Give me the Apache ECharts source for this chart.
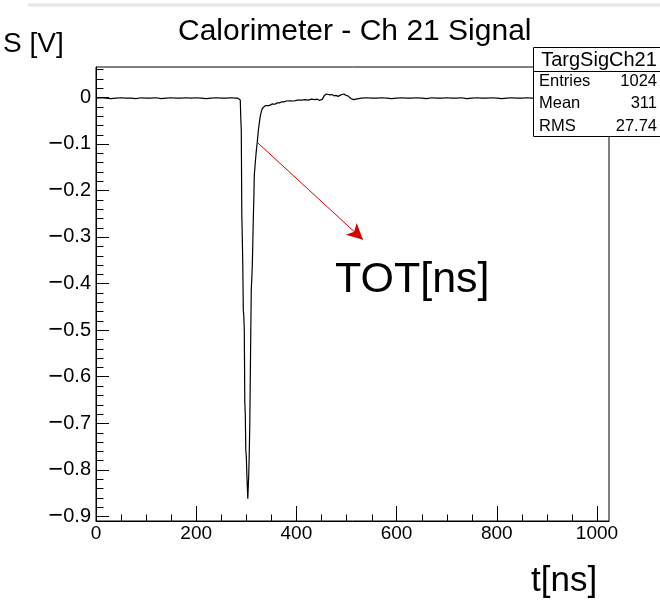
<!DOCTYPE html>
<html>
<head>
<meta charset="utf-8">
<script src="https://cdn.jsdelivr.net/npm/echarts@6/dist/echarts.min.js"></script>
<style>
  html, body { margin: 0; padding: 0; background: #fff; }
  #chart { width: 660px; height: 602px; }
</style>
</head>
<body>
<div id="chart"></div>
<script>
// Sampled waveform of calorimeter channel 21: time [ns] and signal [V]
const timeNs = [
  0, 10, 20, 30, 40, 50, 60, 70, 80, 90, 100, 110, 120, 130, 140, 150, 160, 170, 180, 190,
  200, 210, 220, 230, 240, 250, 260, 270, 278, 283, 285, 288, 289, 290, 291, 292, 293, 294,
  295, 296, 297, 298, 299, 300, 301, 302, 303, 304, 305, 306, 307, 308, 309, 310, 311, 312,
  313, 314, 315, 316, 318, 320, 322, 324, 326, 328, 330, 332, 335, 338, 341, 344, 348, 352,
  357, 362, 366, 370, 375, 380, 388, 395, 402, 410, 417, 424, 430, 437, 442, 446, 449, 452,
  456, 460, 463, 467, 471, 475, 479, 483, 487, 491, 495, 499, 503, 507, 511, 515, 519, 524,
  530, 540, 550, 560, 570, 580, 590, 600, 610, 620, 630, 640, 650, 660, 670, 680, 690, 700,
  710, 720, 730, 740, 750, 760, 770, 780, 790, 800, 810, 820, 830, 840, 850, 860, 870, 880,
  890, 900, 910, 920, 930, 940, 950, 960, 970, 980, 990, 1000, 1010, 1023
];
const signalV = [
  -0.002, -0.001, -0.002, -0.003, -0.002, -0.001, -0.002, -0.002, -0.003, -0.001, -0.002, -0.002, -0.001, -0.003, -0.002, -0.001, -0.002, -0.002, -0.001, -0.002,
  -0.001, -0.002, -0.003, -0.002, -0.001, -0.002, -0.002, -0.001, -0.002, -0.002, -0.005, -0.006, -0.045, -0.070, -0.250, -0.300, -0.360, -0.457,
  -0.470, -0.500, -0.654, -0.680, -0.758, -0.770, -0.807, -0.835, -0.862, -0.862, -0.807, -0.760, -0.700, -0.600, -0.500, -0.410, -0.390, -0.360,
  -0.313, -0.260, -0.220, -0.167, -0.140, -0.115, -0.095, -0.072, -0.055, -0.040, -0.031, -0.024, -0.021, -0.018, -0.020, -0.018, -0.017, -0.014,
  -0.015, -0.012, -0.012, -0.010, -0.010, -0.008, -0.0075, -0.008, -0.006, -0.006, -0.005, -0.006, -0.004, -0.005, -0.004, -0.007, -0.009, -0.004,
  0.004, 0.007, 0.008, 0.005, 0.006, 0.003, 0.004, 0.002, 0.004, 0.006, 0.007, 0.004, 0.003, -0.001, -0.004, -0.005, -0.004, -0.003,
  -0.002, -0.001, -0.002, -0.002, -0.001, -0.002, -0.003, -0.002, -0.001, -0.002, -0.002, -0.001, -0.002, -0.003, -0.001, -0.002, -0.002, -0.001,
  -0.002, -0.002, -0.001, -0.003, -0.002, -0.001, -0.002, -0.002, -0.001, -0.002, -0.003, -0.002, -0.001, -0.002, -0.002, -0.001, -0.002, -0.002,
  -0.001, -0.002, -0.003, -0.002, -0.001, -0.002, -0.002, -0.001, -0.002, -0.002, -0.001, -0.002, -0.002, -0.002
];

// Axis tick labels
const xTickValues = [0, 200, 400, 600, 800, 1000];
const yTickValues = [0, -0.1, -0.2, -0.3, -0.4, -0.5, -0.6, -0.7, -0.8, -0.9];

// Statistics box contents
const statsTitle = 'TargSigCh21';
const statsNames = ['Entries', 'Mean', 'RMS'];
const statsValues = ['1024', '311', '27.74'];

// Annotation arrow (time, signal) start and end
const arrowFrom = [322, -0.097];
const arrowTo = [533, -0.306];

const FONT = 'Liberation Sans, Arial, Helvetica, sans-serif';
const X_MIN = 0, X_MAX = 1024;
const Y_MIN = -0.91, Y_MAX = 0.065;

// minor tick positions: every 50 ns and every 0.02 V
const xMinor = [];
for (let v = 50; v <= 1000; v += 50) if (v % 200) xMinor.push(v);
const yMinor = [];
for (let i = -45; i <= 3; i++) if (i % 5) yMinor.push(+(i * 0.02).toFixed(2));

const seriesData = timeNs.map((t, i) => [t, signalV[i]]);
const minorTickData = xMinor.map(v => [v, Y_MIN, 0]).concat(yMinor.map(v => [X_MIN, v, 1]));

const chart = echarts.init(document.getElementById('chart'), null, { renderer: 'canvas' });

// negative labels get a wide minus sign
function fmtY(v) {
  if (Math.abs(v) < 1e-9) return '{d|0}';
  return (v < 0 ? '{m|\u2212}' : '') + '{d|' + Math.abs(v).toFixed(1) + '}';
}

// short inward tick on the bottom (kind 0) or left (kind 1) frame edge
function renderMinorTick(params, api) {
  const p = api.coord([api.value(0), api.value(1)]);
  const x = Math.round(p[0]) + 0.5;
  const y = Math.round(p[1]) + 0.5;
  const len = 7;
  const shape = api.value(2) === 0
    ? { x1: x, y1: y, x2: x, y2: y - len }
    : { x1: x, y1: y, x2: x + len, y2: y };
  return { type: 'line', shape, style: { stroke: '#000', lineWidth: 1 } };
}

chart.setOption({
  animation: false,
  backgroundColor: '#fff',
  grid: {
    left: 96, right: 51, top: 67, bottom: 81,
    show: true, borderColor: '#000', borderWidth: 1, backgroundColor: 'transparent'
  },
  xAxis: {
    type: 'value', min: X_MIN, max: X_MAX, position: 'bottom',
    axisLine: { show: true, onZero: false, lineStyle: { color: '#000', width: 1 } },
    axisTick: { show: true, inside: true, length: 15, customValues: xTickValues, lineStyle: { color: '#000' } },
    axisLabel: { show: true, customValues: xTickValues, formatter: v => String(v), color: '#000', fontFamily: FONT, fontSize: 19, margin: 3 },
    splitLine: { show: false }
  },
  yAxis: {
    type: 'value', min: Y_MIN, max: Y_MAX, position: 'left',
    axisLine: { show: true, onZero: false, lineStyle: { color: '#000', width: 1 } },
    axisTick: { show: true, inside: true, length: 13, customValues: yTickValues, lineStyle: { color: '#000' } },
    axisLabel: {
      show: true, customValues: yTickValues, formatter: fmtY, margin: 5,
      rich: {
        m: { color: '#000', fontFamily: FONT, fontSize: 25, lineHeight: 22 },
        d: { color: '#000', fontFamily: FONT, fontSize: 20, lineHeight: 22 }
      }
    },
    splitLine: { show: false }
  },
  series: [
    {
      type: 'custom',
      coordinateSystem: 'cartesian2d',
      data: minorTickData,
      renderItem: renderMinorTick,
      clip: false,
      silent: true,
      z: 1
    },
    {
      type: 'line',
      data: seriesData,
      showSymbol: false,
      symbol: 'none',
      lineStyle: { color: '#000', width: 1.2 },
      z: 3,
      markLine: {
        silent: true,
        symbol: ['none', 'arrow'],
        symbolSize: [12, 16],
        label: { show: false },
        lineStyle: { color: '#d60000', width: 1, type: 'solid' },
        data: [[{ coord: arrowFrom }, { coord: arrowTo }]]
      }
    }
  ],
  graphic: [
    {
      type: 'line', z: 50,
      shape: { x1: 28, y1: 5, x2: 660, y2: 5 },
      style: { stroke: '#e6e6e6', lineWidth: 3 }
    },
    {
      type: 'text', z: 50, left: 178, top: 17,
      style: { text: 'Calorimeter - Ch 21 Signal', font: '30px ' + FONT, fill: '#000' }
    },
    {
      type: 'text', z: 50, left: 3, top: 30,
      style: { text: 'S [V]', font: '28px ' + FONT, fill: '#000' }
    },
    {
      type: 'text', z: 50, left: 531, top: 564,
      style: { text: 't[ns]', font: '35px ' + FONT, fill: '#000' }
    },
    {
      type: 'text', z: 50, left: 335, top: 259,
      style: { text: 'TOT[ns]', font: '43px ' + FONT, fill: '#000' }
    },
    {
      type: 'group', z: 100, left: 531, top: 47,
      children: [
        { type: 'rect', z: 100, shape: { x: 0.5, y: 0.5, width: 135, height: 89 }, style: { fill: '#fff', stroke: '#000', lineWidth: 1 } },
        { type: 'line', z: 101, shape: { x1: 0.5, y1: 24.5, x2: 136, y2: 24.5 }, style: { stroke: '#000', lineWidth: 1 } },
        { type: 'text', z: 101, style: { text: statsTitle, x: 66, y: 13, align: 'center', verticalAlign: 'middle', font: '20px ' + FONT, fill: '#000' } },
        ...statsNames.map((n, i) => ({
          type: 'text', z: 101,
          style: { text: n, x: 6, y: 34 + i * 22.5, align: 'left', verticalAlign: 'middle', font: '16.5px ' + FONT, fill: '#000' }
        })),
        ...statsValues.map((v, i) => ({
          type: 'text', z: 101,
          style: { text: v, x: 124, y: 34 + i * 22.5, align: 'right', verticalAlign: 'middle', font: '16.5px ' + FONT, fill: '#000' }
        }))
      ]
    }
  ]
});
</script>
</body>
</html>
